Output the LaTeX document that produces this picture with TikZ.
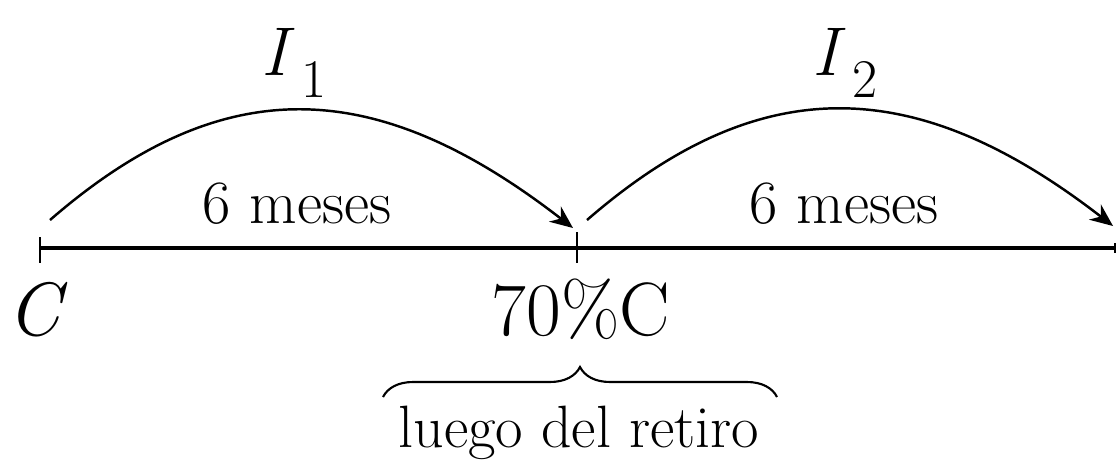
\documentclass[tikz,border=0pt]{standalone}
\usetikzlibrary{arrows.meta,decorations.pathreplacing}
\begin{document}
\begin{tikzpicture}[x=0.01cm,y=-0.01cm,
  axis/.style={line width=0.9pt},
  tickmark/.style={line width=0.7pt},
  arcarrow/.style={line width=0.7pt,-{Stealth[length=6.5pt,width=5.5pt]}},
  bracestyle/.style={line width=0.6pt,decorate,decoration={brace,amplitude=0.3cm}},
  lbl/.style={inner sep=0pt,anchor=base},
  midfont/.style={font=\fontsize{17.5}{20}\selectfont},
  bigfont/.style={font=\fontsize{21.5}{24}\selectfont},
  smallfont/.style={font=\fontsize{17}{19}\selectfont},
  ifont/.style={font=\fontsize{19.6}{22}\selectfont}]
\useasboundingbox (0,0) rectangle (1116,460);
% timeline
\coordinate (t0) at (40,248);
\coordinate (t1) at (577,248);
\coordinate (t2) at (1116,248);
\draw[axis] (t0) -- (t2);
\draw[tickmark] (40,237) -- (40,263);
\draw[tickmark] (577,232) -- (577,263);
\draw[tickmark] (1115,243) -- (1115,253);
% arcs
\coordinate (a1s) at (50,220);
\coordinate (a1e) at (573,228);
\coordinate (a2s) at (587,220);
\coordinate (a2e) at (1113,226);
\draw[arcarrow] (a1s) .. controls (225,68) and (378,77) .. (a1e);
\draw[arcarrow] (a2s) .. controls (762,68) and (918,75) .. (a2e);
% labels
\node[lbl,ifont] (i1) at (294,75) {\textit{I}\kern2pt\raisebox{-6.5pt}{\fontsize{15.5}{16}\selectfont 1}};
\node[lbl,ifont] (i2) at (845,75) {\textit{I}\kern2pt\raisebox{-6.5pt}{\fontsize{15.5}{16}\selectfont 2}};
\node[lbl,midfont] (m1) at (297,223) {6 meses};
\node[lbl,midfont] (m2) at (844,223) {6 meses};
\node[lbl,bigfont] (c0) at (38,335) {\textit{C}};
\node[lbl,bigfont] (c1) at (581,335) {70\%C};
% brace
\coordinate (b0) at (383,397);
\coordinate (b1) at (777,397);
\draw[bracestyle] (b0) -- (b1);
\node[lbl,smallfont] (ret) at (579,447) {luego del retiro};
\end{tikzpicture}
\end{document}
